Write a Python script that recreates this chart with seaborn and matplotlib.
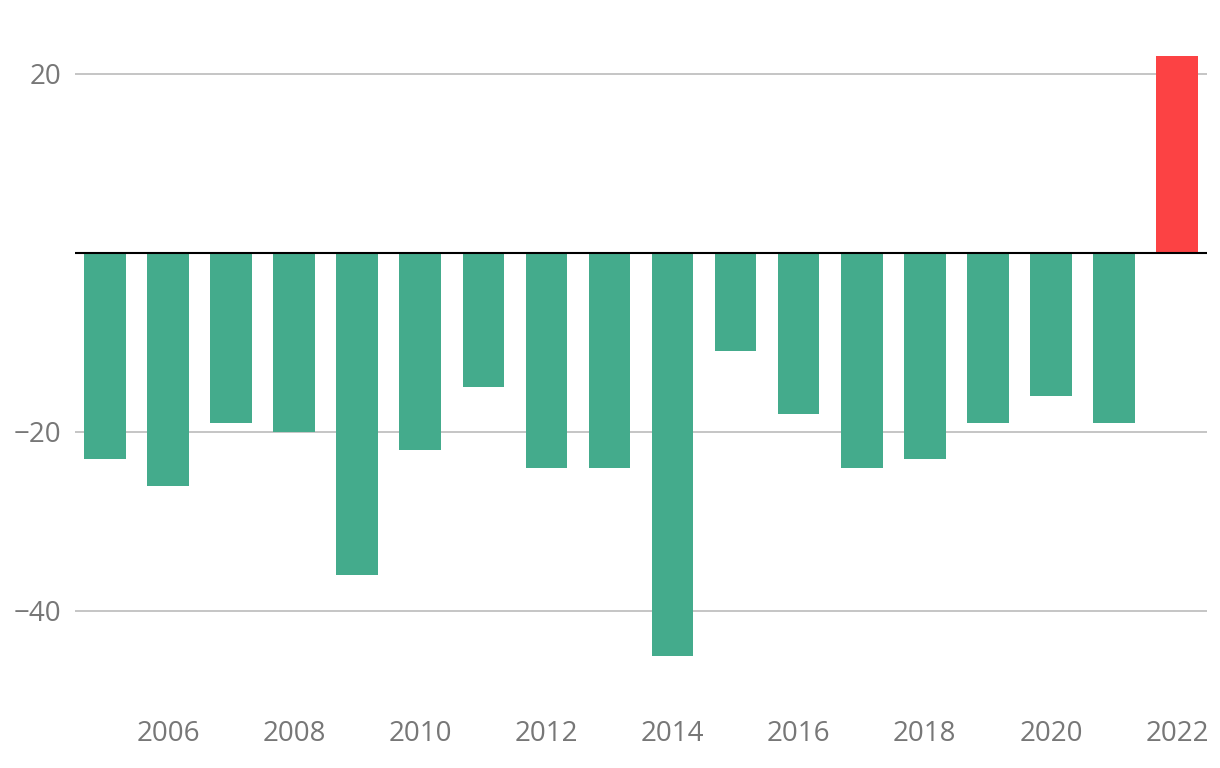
import matplotlib
matplotlib.use("Agg")
import matplotlib.pyplot as plt
import seaborn as sns
import pandas as pd

years = list(range(2005, 2023))
values = [-23, -26, -19, -20, -36, -22, -15, -24, -24, -45, -11, -18, -24, -23, -19, -16, -19, 22]
tick_years = [2006, 2008, 2010, 2012, 2014, 2016, 2018, 2020, 2022]
y_ticks = [-40, -20, 20]

sns.set_theme(style="white")
plt.rcParams['font.family'] = ['Open Sans', 'DejaVu Sans']

df = pd.DataFrame({"year": [str(y) for y in years], "value": values})
df["sign"] = ["pos" if v > 0 else "neg" for v in values]

fig = plt.figure(figsize=(12.2, 7.68), dpi=100)
ax = fig.add_axes([75/1220, 0.0879, (1207-75)/1220, 0.962-0.0879])

sns.barplot(data=df, x="year", y="value", hue="sign",
            palette={"neg": "#44AB8C", "pos": "#FC4244"},
            width=0.66, dodge=False, legend=False, ax=ax, saturation=1,
            linewidth=0, edgecolor="none")

ax.set_xlim(-0.475, len(years) - 1 + 0.475)
ax.set_ylim(-50, 25)
ax.set_yticks(y_ticks)
ax.set_yticklabels(["\u221240", "\u221220", "20"])
ax.set_xticks([years.index(y) for y in tick_years])
ax.set_xticklabels([str(y) for y in tick_years])
for y in y_ticks:
    ax.axhline(y, color="#c0c0c0", lw=1.3, zorder=0)
ax.axhline(0, color="black", lw=1.5, zorder=3)
for s in ax.spines.values():
    s.set_visible(False)
ax.tick_params(axis="both", length=0, labelsize=20, labelcolor="#777777")
ax.tick_params(axis="x", pad=14)
ax.tick_params(axis="y", pad=10)
ax.set_xlabel("")
ax.set_ylabel("")
ax.grid(False)
fig.savefig("out.png", dpi=100)
